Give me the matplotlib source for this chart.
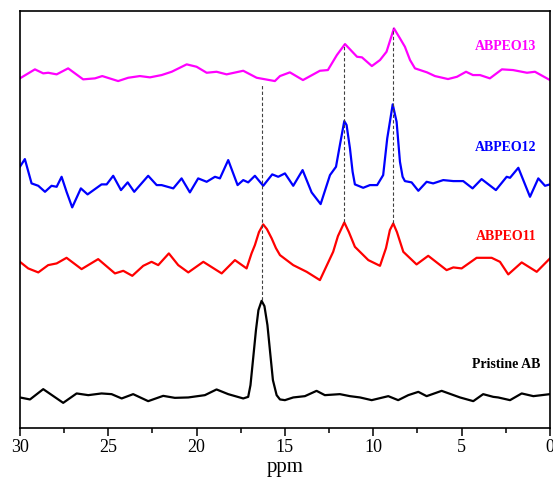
import matplotlib.pyplot as plt

plt.rcParams['font.family'] = ['Liberation Serif', 'DejaVu Serif']

# chemical shift (ppm) and intensity (a.u., stacked)
ppm_abpeo13 = [30.00, 29.15, 28.68, 28.40, 27.92, 27.27, 26.42, 25.75, 25.34, 24.44,
               23.87, 23.21, 22.64, 21.98, 21.41, 20.56, 20.00, 19.43, 18.87, 18.30,
               17.36, 16.60, 15.57, 15.28, 14.72, 13.98, 13.02, 12.57, 12.06, 11.60,
               10.92, 10.64, 10.08, 9.62, 9.25, 8.83, 8.49, 8.21, 7.92, 7.64,
               6.96, 6.51, 5.77, 5.26, 4.75, 4.36, 3.96, 3.40, 2.72, 2.09,
               1.30, 0.85, 0.00]
int_abpeo13 = [349.7, 358.7, 354.7, 355.3, 353.7, 359.7, 348.7, 349.7, 352.0, 347.0,
               350.3, 352.0, 350.7, 353.0, 356.3, 363.7, 361.3, 355.3, 356.3, 353.7,
               357.3, 350.3, 347.0, 352.0, 355.7, 348.0, 357.3, 358.0, 373.0, 384.0,
               371.3, 370.7, 362.0, 368.0, 376.3, 399.7, 389.7, 381.3, 368.0, 359.7,
               355.7, 352.0, 349.0, 351.3, 356.3, 353.0, 353.0, 349.7, 358.7, 358.0,
               355.3, 356.3, 348.0]

ppm_abpeo12 = [30.00, 29.72, 29.34, 28.96, 28.58, 28.21, 27.92, 27.64, 27.36, 27.04,
               26.55, 26.17, 25.38, 25.09, 24.72, 24.28, 23.90, 23.53, 22.74, 22.26,
               21.98, 21.32, 20.85, 20.38, 19.91, 19.43, 18.96, 18.68, 18.21, 17.68,
               17.36, 17.08, 16.70, 16.23, 15.72, 15.38, 15.00, 14.53, 14.00, 13.49,
               12.98, 12.45, 12.11, 11.89, 11.64, 11.51, 11.32, 11.17, 11.04, 10.57,
               10.19, 9.78, 9.44, 9.21, 8.90, 8.68, 8.49, 8.34, 8.21, 7.83,
               7.45, 6.98, 6.61, 6.04, 5.47, 4.91, 4.38, 3.87, 3.06, 2.45,
               2.26, 1.79, 1.13, 0.66, 0.28, 0.00]
int_abpeo12 = [261.3, 269.0, 244.7, 242.3, 236.3, 242.3, 241.3, 251.3, 236.3, 220.7,
               239.7, 233.7, 243.7, 243.7, 252.3, 238.0, 245.7, 236.3, 252.3, 243.0,
               243.0, 239.7, 249.7, 235.7, 249.7, 246.3, 251.3, 249.7, 268.0, 243.0,
               248.0, 245.7, 252.3, 242.3, 253.7, 251.3, 254.7, 242.3, 258.0, 235.7,
               224.0, 253.0, 261.3, 283.0, 307.0, 303.0, 279.7, 256.3, 243.7, 240.3,
               243.0, 243.0, 253.0, 289.7, 323.7, 306.3, 266.3, 251.3, 247.0, 245.7,
               237.3, 246.3, 244.7, 248.0, 247.0, 247.0, 239.7, 249.0, 238.0, 251.3,
               250.3, 260.3, 231.3, 249.7, 242.3, 243.7]

ppm_abpeo11 = [30.00, 29.53, 28.96, 28.40, 27.92, 27.36, 26.51, 25.57, 24.62, 24.15,
               23.64, 23.02, 22.55, 22.17, 21.57, 21.04, 20.47, 19.62, 18.58, 17.83,
               17.17, 16.89, 16.70, 16.47, 16.23, 16.02, 15.75, 15.51, 15.28, 14.53,
               13.77, 13.02, 12.27, 12.00, 11.64, 11.38, 11.04, 10.28, 9.62, 9.28,
               9.06, 8.87, 8.66, 8.30, 7.55, 6.89, 5.85, 5.47, 5.00, 4.15,
               3.30, 2.83, 2.36, 1.60, 0.75, 0.00]
int_abpeo11 = [166.3, 159.7, 155.7, 163.0, 164.7, 170.3, 159.0, 169.0, 154.7, 157.3,
               152.3, 162.3, 166.3, 163.0, 174.7, 163.0, 155.7, 166.3, 154.7, 168.0,
               159.7, 174.7, 183.0, 196.0, 203.7, 199.0, 189.7, 180.0, 173.0, 163.0,
               156.3, 148.0, 176.3, 192.0, 205.7, 196.0, 181.3, 168.0, 162.3, 180.0,
               198.0, 204.7, 196.0, 176.3, 163.7, 172.3, 158.0, 160.7, 159.7, 170.3,
               170.3, 166.3, 153.7, 165.7, 156.3, 169.7]

ppm_pristine = [30.00, 29.43, 28.68, 27.55, 26.79, 26.13, 25.38, 24.81, 24.24, 23.59,
                22.74, 21.89, 21.23, 20.47, 19.53, 18.87, 18.21, 17.36, 17.08, 16.95,
                16.79, 16.64, 16.50, 16.32, 16.16, 15.99, 15.85, 15.68, 15.47, 15.28,
                15.00, 14.53, 13.87, 13.21, 12.74, 11.89, 11.32, 10.75, 10.09, 9.15,
                8.59, 8.02, 7.45, 6.98, 6.13, 5.09, 4.34, 3.78, 3.21, 2.93,
                2.26, 1.60, 0.94, 0.00]
int_pristine = [30.7, 28.7, 39.0, 25.3, 34.7, 33.0, 34.7, 34.0, 29.7, 34.0,
                27.0, 32.3, 30.3, 30.7, 33.0, 38.7, 34.0, 29.7, 31.3, 43.0,
                71.3, 98.0, 118.0, 127.3, 122.0, 103.0, 78.0, 48.0, 33.0, 28.7,
                28.0, 30.7, 32.0, 37.3, 33.0, 34.0, 32.0, 30.7, 28.0, 32.0,
                28.0, 33.0, 36.3, 32.0, 37.3, 30.7, 27.0, 34.0, 31.3, 30.7,
                28.0, 34.7, 32.0, 34.0]

# guide lines: position, bottom, top
guide_ppm = [16.3, 11.63, 8.89]
guide_low = [128, 206, 205]
guide_high = [343, 384, 400]

labels = ['ABPEO13', 'ABPEO12', 'ABPEO11', 'Pristine AB']
label_y = [382, 281, 192, 64]
colors = ['#ff00ff', '#0000ff', '#ff0000', '#000000']

fig = plt.figure(figsize=(5.53, 4.8), dpi=100)
ax = fig.add_axes([0.036, 0.108, 0.9585, 0.869])

series = [(ppm_abpeo13, int_abpeo13), (ppm_abpeo12, int_abpeo12),
          (ppm_abpeo11, int_abpeo11), (ppm_pristine, int_pristine)]
for (x, y), c in zip(series, colors):
    ax.plot(x, y, color=c, lw=1.6, solid_joinstyle='round')

ax.vlines(guide_ppm, guide_low, guide_high, colors='0.25', lw=0.8,
          linestyles=(0, (3, 2)))

for lab, yy, c in zip(labels, label_y, colors):
    ax.text(2.5, yy, lab, color=c, fontsize=10, fontweight='bold',
            ha='center', va='center')

ax.set_xlim(30, 0)
ax.set_ylim(0, 417)
ax.set_yticks([])
ax.set_xticks([30, 25, 20, 15, 10, 5, 0])
ax.set_xticks([27.5, 22.5, 17.5, 12.5, 7.5, 2.5], minor=True)
ax.tick_params(axis='x', which='major', direction='out', length=6, width=1.1,
               labelsize=13, pad=2)
ax.tick_params(axis='x', which='minor', direction='out', length=3.5, width=1.1)
for s in ax.spines.values():
    s.set_linewidth(1.2)
ax.set_xlabel('ppm', fontsize=15, labelpad=1)

fig.savefig('out.png', dpi=100)
